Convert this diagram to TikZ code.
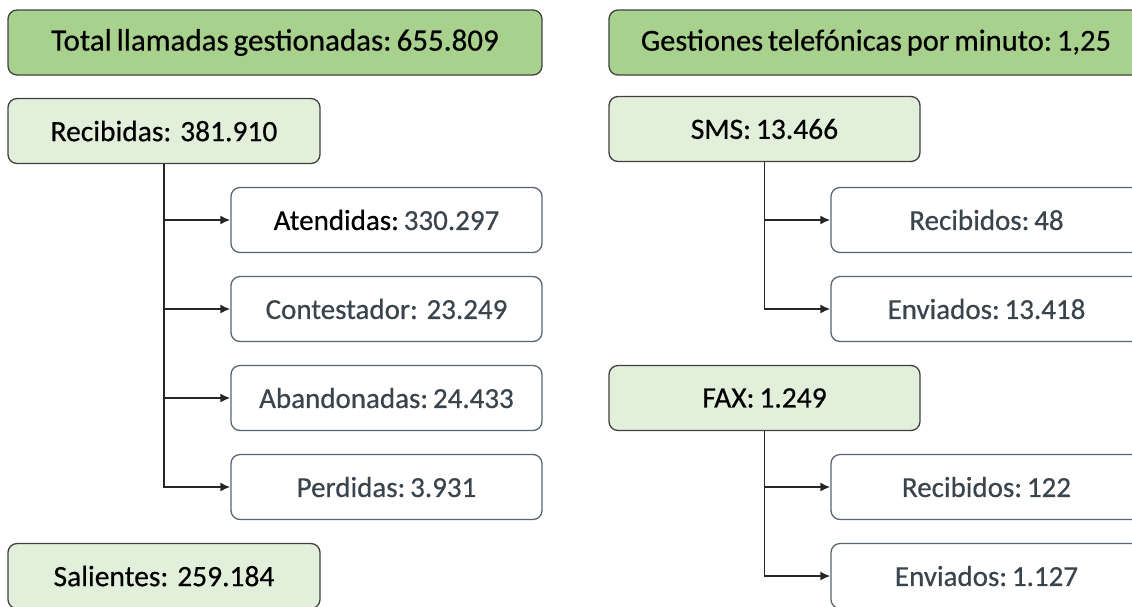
\documentclass[tikz,border=0pt]{standalone}
\usepackage{fontspec}
\setmainfont{Carlito}[BoldFont=Carlito, BoldFeatures={FakeBold=0.5}]
\usetikzlibrary{arrows.meta}
\definecolor{dgreen}{HTML}{A9D18E}
\definecolor{lgreen}{HTML}{E2EFDA}
\definecolor{gborder}{HTML}{404040}
\definecolor{cborder}{HTML}{5A6470}
\definecolor{ctext}{HTML}{3A444D}
\newcommand\tightwords{\spaceskip=0.16em\relax}
\tikzset{
  topbox/.style={draw=gborder, line width=1.3pt, rounded corners=9pt, fill=dgreen,
    minimum width=534pt, minimum height=65pt, inner sep=0pt, text=black,
    font=\fontsize{30.5}{36}\selectfont\bfseries},
  parbox/.style={draw=gborder, line width=1.3pt, rounded corners=9pt, fill=lgreen,
    minimum width=311pt, minimum height=65pt, inner sep=0pt, text=black,
    font=\fontsize{29.5}{35}\selectfont\bfseries},
  childbox/.style={draw=cborder, line width=1.3pt, rounded corners=9pt, fill=white,
    minimum width=311pt, minimum height=65pt, inner sep=0pt, text=ctext,
    font=\fontsize{29}{34}\selectfont\bfseries},
  conn/.style={draw=black!85, line width=1.7pt, -{Latex[length=10pt,width=9pt]}}
}
\begin{document}
\begin{tikzpicture}[x=1pt,y=-1pt]
\useasboundingbox (0,0) rectangle (1132,606);
% left column
\node[topbox, font=\fontsize{31}{37}\selectfont\bfseries] (total) at (275,42.5) {\tightwords Total llamadas gestionadas:\,655.809};
\node[parbox, minimum width=312pt] (rec) at (164,131) {Recibidas: 381.910};
\node[childbox] (ate) at (386.5,220) {\textcolor{black}{Atendidas:}\,330.297};
\node[childbox] (con) at (386.5,309) {Contestador: 23.249};
\node[childbox] (aba) at (386.5,398) {Abandonadas:\,24.433};
\node[childbox] (per) at (386.5,487) {Perdidas:\,3.931};
\node[parbox, minimum width=312pt] (sal) at (164,576) {Salientes: 259.184};
\draw[conn] (rec.south) |- (ate.west);
\draw[conn] (rec.south) |- (con.west);
\draw[conn] (rec.south) |- (aba.west);
\draw[conn] (rec.south) |- (per.west);
% right column
\node[topbox] (gest) at (876,42.5) {\tightwords Gestiones telefónicas por minuto:\,1,25};
\node[parbox] (sms) at (764.5,129) {SMS:\,13.466};
\node[childbox] (smsr) at (986.5,220) {Recibidos:\,48};
\node[childbox] (smse) at (986.5,309) {Enviados:\,13.418};
\node[parbox] (fax) at (764.5,398) {FAX:\,1.249};
\node[childbox] (faxr) at (986.5,487) {Recibidos:\,122};
\node[childbox] (faxe) at (986.5,576) {Enviados:\,1.127};
\draw[conn] (sms.south) |- (smsr.west);
\draw[conn] (sms.south) |- (smse.west);
\draw[conn] (fax.south) |- (faxr.west);
\draw[conn] (fax.south) |- (faxe.west);
\end{tikzpicture}
\end{document}
